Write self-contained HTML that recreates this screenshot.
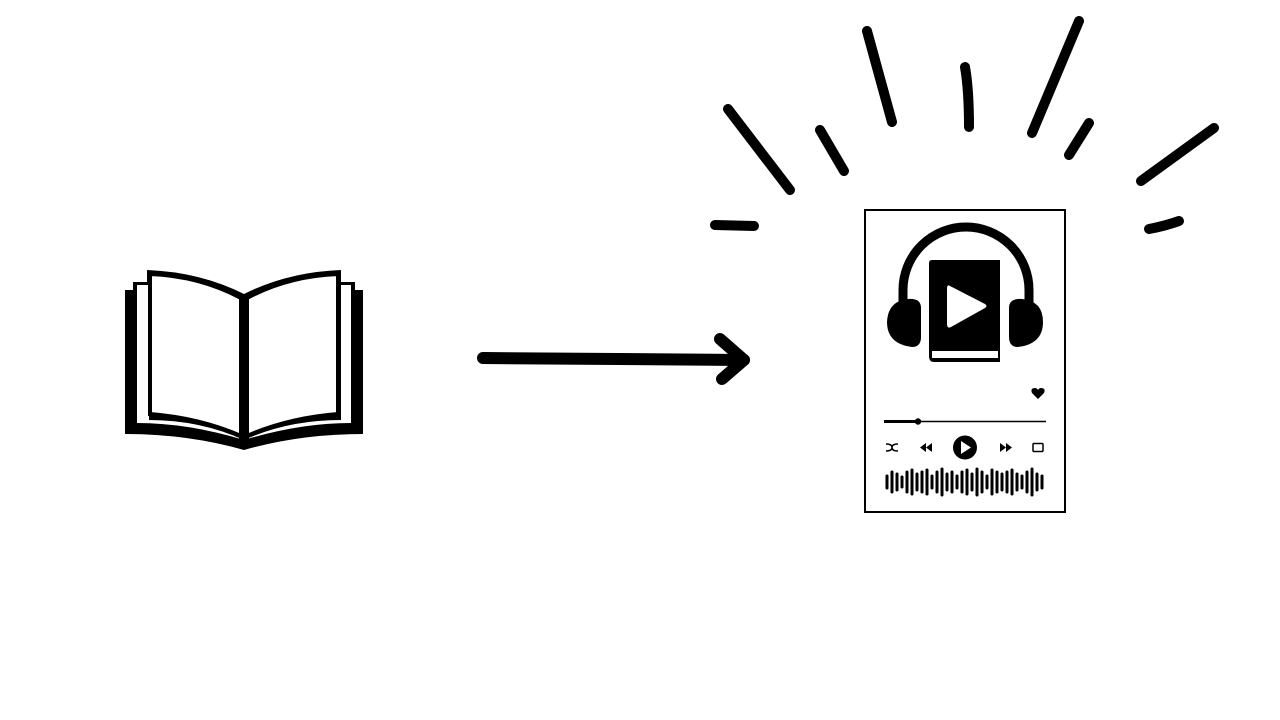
<!DOCTYPE html>
<html><head><meta charset="utf-8"><style>html,body{margin:0;padding:0;background:#fff;width:1280px;height:720px;overflow:hidden}</style></head>
<body>
<svg width="1280" height="720" viewBox="0 0 1280 720" xmlns="http://www.w3.org/2000/svg">
<!-- book -->
<path d="M125,290 H133 V282 H147 V270 Q200,272 244,294 Q288,272 341,270 V282 H355 V290 H363 V434 Q300,434 244,450 Q188,434 125,434 Z" fill="#000"/>
<path d="M137,285 H149 V420 Q200,420 244,440 Q288,420 341,420 V285 H351 V423 Q300,423 244,440 Q188,423 137,423 Z" fill="#fff"/>
<path d="M150,274 Q200,276 241,298 V436 Q200,418 150,414 Z" fill="#fff" stroke="#000" stroke-width="4"/>
<path d="M338,274 Q288,276 247,298 V436 Q288,418 338,414 Z" fill="#fff" stroke="#000" stroke-width="4"/>
<rect x="239" y="296" width="10" height="146" fill="#000"/>
<!-- arrow -->
<g stroke="#000" stroke-width="12" stroke-linecap="round" stroke-linejoin="round" fill="none">
<path d="M483,358 L744,360"/>
<path d="M720,339 L744,360 L722,379"/>
</g>
<!-- rays -->
<g stroke="#000" stroke-width="10" stroke-linecap="round" fill="none">
<path d="M728,109 L790,190"/>
<path d="M820,130 L844,171"/>
<path d="M867,31 L892,122"/>
<path d="M965,67 Q969,90 969,127"/>
<path d="M1079,21 L1032,133"/>
<path d="M1089,123 L1069,155"/>
<path d="M1214,128 L1141,181"/>
<path d="M1179,221 Q1165,226 1149,229"/>
<path d="M715,225 L754,226"/>
</g>
<!-- card -->
<rect x="865" y="210" width="200" height="302" fill="#fff" stroke="#000" stroke-width="2"/>
<path d="M903,318 V290 A63,63 0 0 1 1029,290 V318" fill="none" stroke="#000" stroke-width="9"/>
<path d="M908,299 Q888,301 887,322 Q887,344 912,347 Q921,347 921,337 V308 Q921,298 908,299 Z" fill="#000"/>
<path d="M1022,299 Q1043,301 1043,322 Q1043,344 1018,347 Q1009,347 1009,337 V308 Q1009,298 1022,299 Z" fill="#000"/>
<path d="M932,260 H1000 V362 H934 Q929,362 929,356 V263 Q929,260 932,260 Z" fill="#000"/>
<path d="M932,351 H998 V358 H932 Z" fill="#fff"/>
<path d="M950,286 Q947,284 947,289 V324 Q947,329 951,327 L985,308 Q988,306 985,304 Z" fill="#fff"/>
<path d="M1038,399 L1032,393 Q1030,388 1035,388 Q1037,388 1038,390 Q1039,388 1041,388 Q1046,388 1044,393 Z" fill="#000"/>
<line x1="884" y1="421.5" x2="1046" y2="421.5" stroke="#000" stroke-width="1.5"/>
<line x1="884" y1="421.5" x2="918" y2="421.5" stroke="#000" stroke-width="3"/>
<circle cx="918" cy="421.5" r="3.2" fill="#000"/>
<path d="M886,444 Q892,444 892,447.5 Q892,451 898,451 M886,451 Q892,451 892,447.5 Q892,444 898,444" stroke="#000" stroke-width="1.5" fill="none"/>
<path d="M926,443 L920,447.5 L926,452 Z M932,443 L926,447.5 L932,452 Z" fill="#000"/>
<circle cx="965" cy="447.5" r="12" fill="#000"/>
<path d="M961,441 L971,447.5 L961,454 Z" fill="#fff"/>
<path d="M1000,443 L1006,447.5 L1000,452 Z M1006,443 L1012,447.5 L1006,452 Z" fill="#000"/>
<rect x="1033" y="443.5" width="10" height="8" rx="1" fill="none" stroke="#000" stroke-width="1.5"/>
<g stroke="#000" stroke-width="3" stroke-linecap="round">
<line x1="887" y1="476" x2="887" y2="488"/>
<line x1="892" y1="472" x2="892" y2="492"/>
<line x1="897" y1="474" x2="897" y2="490"/>
<line x1="902" y1="477" x2="902" y2="487"/>
<line x1="907" y1="472" x2="907" y2="492"/>
<line x1="912" y1="470" x2="912" y2="494"/>
<line x1="917" y1="474" x2="917" y2="490"/>
<line x1="922" y1="472" x2="922" y2="492"/>
<line x1="927" y1="470" x2="927" y2="494"/>
<line x1="932" y1="476" x2="932" y2="488"/>
<line x1="937" y1="472" x2="937" y2="492"/>
<line x1="942" y1="469" x2="942" y2="495"/>
<line x1="947" y1="474" x2="947" y2="490"/>
<line x1="952" y1="472" x2="952" y2="492"/>
<line x1="957" y1="476" x2="957" y2="488"/>
<line x1="962" y1="472" x2="962" y2="492"/>
<line x1="967" y1="470" x2="967" y2="494"/>
<line x1="972" y1="474" x2="972" y2="490"/>
<line x1="977" y1="469" x2="977" y2="495"/>
<line x1="982" y1="472" x2="982" y2="492"/>
<line x1="987" y1="476" x2="987" y2="488"/>
<line x1="992" y1="470" x2="992" y2="494"/>
<line x1="997" y1="472" x2="997" y2="492"/>
<line x1="1002" y1="474" x2="1002" y2="490"/>
<line x1="1007" y1="472" x2="1007" y2="492"/>
<line x1="1012" y1="470" x2="1012" y2="494"/>
<line x1="1017" y1="474" x2="1017" y2="490"/>
<line x1="1022" y1="476" x2="1022" y2="488"/>
<line x1="1027" y1="472" x2="1027" y2="492"/>
<line x1="1032" y1="469" x2="1032" y2="495"/>
<line x1="1037" y1="474" x2="1037" y2="490"/>
<line x1="1042" y1="476" x2="1042" y2="488"/>
</g>
</svg>
</body></html>
